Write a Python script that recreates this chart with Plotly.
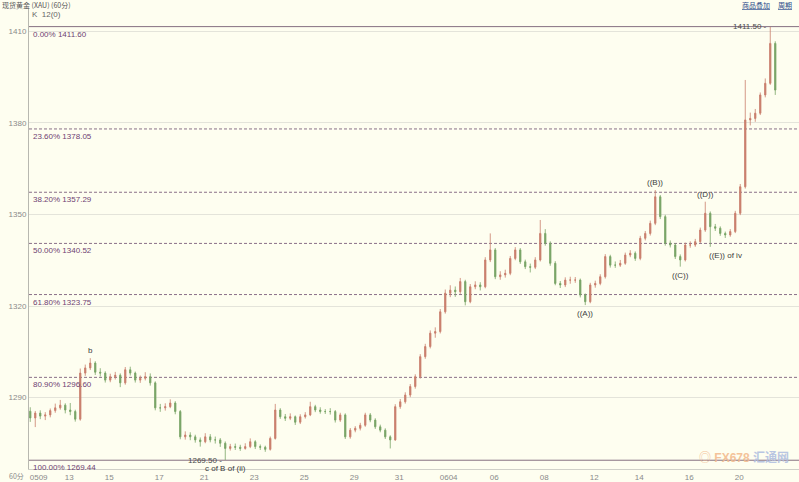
import plotly.graph_objects as go

# ---------------- data ----------------
OPEN = [1285.5, 1283.3, 1284.9, 1283.9, 1284.3, 1285.7, 1286.6, 1287.5, 1285.9, 1285.4,
        1282.9, 1298.0, 1299.7, 1301.3, 1298.3, 1298.0, 1295.7, 1296.8, 1297.3, 1294.8,
        1299.1, 1298.0, 1295.7, 1296.3, 1296.8, 1294.8, 1286.6, 1286.6, 1287.0, 1288.2,
        1285.4, 1277.1, 1277.7, 1277.1, 1276.1, 1275.5, 1277.1, 1276.1, 1276.1, 1275.0,
        1273.3, 1273.9, 1273.7, 1273.3, 1273.9, 1275.5, 1273.9, 1273.7, 1273.0, 1276.6,
        1285.9, 1283.7, 1283.2, 1283.7, 1281.9, 1283.7, 1284.3, 1287.0, 1285.9, 1285.4,
        1285.4, 1285.4, 1282.6, 1284.3, 1277.1, 1279.3, 1279.9, 1280.9, 1284.3, 1282.6,
        1280.4, 1279.3, 1277.1, 1276.1, 1287.0, 1288.6, 1290.8, 1293.6, 1296.8, 1303.4,
        1306.7, 1311.1, 1311.6, 1318.1, 1324.2, 1325.2, 1324.7, 1328.0, 1321.4, 1326.3,
        1326.9, 1326.3, 1335.1, 1338.4, 1329.6, 1330.2, 1330.7, 1335.6, 1338.4, 1334.5,
        1332.9, 1332.7, 1335.1, 1343.8, 1340.6, 1334.0, 1327.4, 1326.9, 1328.5, 1328.5,
        1328.5, 1323.6, 1321.4, 1326.9, 1327.4, 1329.6, 1336.2, 1333.4, 1333.4, 1334.0,
        1336.7, 1337.3, 1335.6, 1342.2, 1343.8, 1347.1, 1355.8, 1349.3, 1340.6, 1340.0,
        1336.2, 1335.1, 1340.0, 1340.0, 1341.1, 1344.9, 1350.4, 1346.0, 1345.5, 1343.8,
        1343.3, 1344.4, 1350.4, 1359.1, 1381.0, 1381.5, 1383.2, 1389.2, 1393.0, 1406.1]
HIGH = [1286.8, 1285.6, 1285.8, 1285.2, 1286.4, 1288.0, 1289.2, 1288.1, 1288.2, 1286.0,
        1299.5, 1300.8, 1302.9, 1301.9, 1299.6, 1298.6, 1297.8, 1298.4, 1297.9, 1300.0,
        1300.1, 1298.5, 1297.2, 1298.3, 1297.9, 1295.3, 1287.9, 1288.1, 1289.4, 1288.8,
        1285.9, 1278.9, 1278.6, 1277.8, 1276.9, 1278.3, 1278.0, 1277.2, 1276.7, 1275.6,
        1274.8, 1274.9, 1274.5, 1275.0, 1276.6, 1276.0, 1274.6, 1274.2, 1277.2, 1287.9,
        1286.5, 1284.6, 1284.8, 1284.1, 1284.5, 1285.2, 1288.6, 1287.6, 1286.8, 1286.2,
        1286.5, 1285.9, 1285.0, 1284.8, 1280.0, 1280.6, 1281.7, 1285.0, 1284.9, 1283.2,
        1281.1, 1279.9, 1277.6, 1287.8, 1289.5, 1291.7, 1294.4, 1297.6, 1304.2, 1307.6,
        1312.0, 1313.0, 1319.0, 1325.4, 1326.8, 1326.4, 1329.2, 1328.6, 1327.2, 1328.1,
        1327.8, 1336.0, 1343.8, 1339.0, 1331.4, 1331.9, 1336.4, 1339.3, 1339.0, 1335.2,
        1333.9, 1336.0, 1348.2, 1345.2, 1341.2, 1334.7, 1328.2, 1329.4, 1329.6, 1329.5,
        1329.0, 1324.1, 1327.6, 1328.3, 1330.4, 1337.0, 1336.8, 1334.6, 1335.1, 1337.5,
        1338.3, 1337.9, 1343.0, 1344.6, 1348.0, 1358.0, 1356.4, 1349.9, 1341.5, 1340.6,
        1336.9, 1340.8, 1341.2, 1342.0, 1345.7, 1354.2, 1351.0, 1346.9, 1346.1, 1344.4,
        1345.2, 1351.2, 1360.0, 1394.1, 1383.4, 1384.6, 1390.0, 1394.6, 1411.5, 1406.8]
LOW = [1282.0, 1280.3, 1282.9, 1282.6, 1283.5, 1285.0, 1286.0, 1284.8, 1284.2, 1282.1,
       1282.4, 1297.1, 1299.0, 1297.4, 1296.9, 1294.9, 1295.0, 1295.9, 1293.4, 1294.2,
       1297.2, 1294.9, 1294.8, 1295.6, 1293.9, 1285.8, 1285.3, 1285.7, 1286.5, 1284.5,
       1276.3, 1276.2, 1276.0, 1275.2, 1273.9, 1275.0, 1275.3, 1274.9, 1273.8, 1269.5,
       1272.6, 1272.8, 1272.5, 1272.9, 1273.4, 1273.1, 1272.8, 1272.2, 1272.6, 1276.2,
       1283.0, 1282.3, 1282.6, 1281.0, 1281.3, 1283.1, 1283.9, 1285.2, 1284.7, 1284.6,
       1284.4, 1281.8, 1282.0, 1276.4, 1276.5, 1278.6, 1279.2, 1280.4, 1281.9, 1279.7,
       1278.6, 1276.4, 1273.3, 1275.8, 1286.3, 1288.0, 1290.1, 1292.9, 1296.2, 1302.7,
       1306.1, 1309.6, 1311.0, 1317.5, 1322.9, 1323.0, 1324.0, 1320.2, 1320.9, 1325.5,
       1325.1, 1325.8, 1334.4, 1328.8, 1328.6, 1329.3, 1330.1, 1335.0, 1333.8, 1332.1,
       1331.0, 1332.1, 1334.6, 1339.8, 1333.2, 1326.8, 1325.9, 1326.2, 1327.3, 1327.6,
       1322.8, 1320.3, 1320.9, 1326.0, 1326.8, 1329.0, 1332.6, 1332.5, 1332.8, 1333.5,
       1336.0, 1334.8, 1335.0, 1341.5, 1343.1, 1346.5, 1348.5, 1339.8, 1339.2, 1335.4,
       1332.9, 1334.6, 1339.1, 1339.4, 1340.6, 1344.3, 1339.4, 1344.6, 1343.0, 1342.3,
       1342.7, 1343.9, 1349.8, 1358.5, 1379.2, 1380.4, 1382.6, 1388.4, 1392.5, 1389.2]
CLOSE = [1283.3, 1284.9, 1283.9, 1284.3, 1285.7, 1286.6, 1287.5, 1285.9, 1285.4, 1282.9,
         1298.0, 1299.7, 1301.3, 1298.3, 1298.0, 1295.7, 1296.8, 1297.3, 1294.8, 1299.1,
         1298.0, 1295.7, 1296.3, 1296.8, 1294.8, 1286.6, 1286.6, 1287.0, 1288.2, 1285.4,
         1277.1, 1277.7, 1277.1, 1276.1, 1275.5, 1277.1, 1276.1, 1276.1, 1275.0, 1273.3,
         1273.9, 1273.7, 1273.3, 1273.9, 1275.5, 1273.9, 1273.7, 1273.0, 1276.6, 1285.9,
         1283.7, 1283.2, 1283.7, 1281.9, 1283.7, 1284.3, 1287.0, 1285.9, 1285.4, 1285.4,
         1285.4, 1282.6, 1284.3, 1277.1, 1279.3, 1279.9, 1280.9, 1284.3, 1282.6, 1280.4,
         1279.3, 1277.1, 1276.1, 1287.0, 1288.6, 1290.8, 1293.6, 1296.8, 1303.4, 1306.7,
         1311.1, 1311.6, 1318.1, 1324.2, 1325.2, 1324.7, 1328.0, 1321.4, 1326.3, 1326.9,
         1326.3, 1335.1, 1338.4, 1329.6, 1330.2, 1330.7, 1335.6, 1338.4, 1334.5, 1332.9,
         1332.7, 1335.1, 1343.8, 1340.6, 1334.0, 1327.4, 1326.9, 1328.5, 1328.5, 1328.5,
         1323.6, 1321.4, 1326.9, 1327.4, 1329.6, 1336.2, 1333.4, 1333.4, 1334.0, 1336.7,
         1337.3, 1335.6, 1342.2, 1343.8, 1347.1, 1355.8, 1349.3, 1340.6, 1340.0, 1336.2,
         1335.1, 1340.0, 1340.0, 1341.1, 1344.9, 1350.4, 1346.0, 1345.5, 1343.8, 1343.3,
         1344.4, 1350.4, 1359.1, 1381.0, 1381.5, 1383.2, 1389.2, 1393.0, 1406.1, 1390.8]
BARS = list(range(len(CLOSE)))

DAY_START = [0, 7, 15, 25, 34, 44, 54, 64, 73, 82, 92, 102, 112, 121, 131, 141]
DAY_LABEL = ["0509", "13", "15", "17", "21", "23", "25", "29", "31",
             "0604", "06", "08", "12", "14", "16", "20"]

Y_TICKS = [1290, 1320, 1350, 1380, 1410]

FIB_PCT = ["0.00%", "23.60%", "38.20%", "50.00%", "61.80%", "80.90%", "100.00%"]
FIB_VAL = [1411.60, 1378.05, 1357.29, 1340.52, 1323.75, 1296.60, 1269.44]

WAVE_TEXT = ["b", "c of B of (ii)", "((A))", "((B))", "((C))", "((D))", "((E)) of iv"]
WAVE_BAR = [12, 39, 111, 125, 130, 135, 136]
WAVE_SIDE = ["high", "low", "low", "high", "low", "high", "low"]

EXTREME_TEXT = ["1269.50", "1411.50"]
EXTREME_BAR = [39, 148]
EXTREME_SIDE = ["low", "high"]

# ---------------- styling ----------------
BG = "#fefef0"
UP = "#c97e6c"
DOWN = "#78a466"
FIB_COL = "#8a7088"
FIB_TXT = "#6e3f72"
AX_TXT = "#8a8a8a"
NARROW = "Liberation Sans Narrow, Arial Narrow, Liberation Sans, sans-serif"
CJK = "Noto Sans CJK SC, sans-serif"

fig = go.Figure()
fig.add_trace(go.Candlestick(
    x=BARS, open=OPEN, high=HIGH, low=LOW, close=CLOSE,
    increasing=dict(line=dict(color=UP, width=0.8), fillcolor=UP),
    decreasing=dict(line=dict(color=DOWN, width=0.8), fillcolor=DOWN),
    whiskerwidth=0, showlegend=False, hoverinfo="skip"))

shapes = []
annotations = []
for i, (p, v) in enumerate(zip(FIB_PCT, FIB_VAL)):
    solid = (i == 0 or i == len(FIB_VAL) - 1)
    shapes.append(dict(type="line", xref="paper", x0=0, x1=1, yref="y", y0=v, y1=v,
                       line=dict(color="#857080" if solid else FIB_COL, width=1,
                                 dash="solid" if solid else "3px,2px"),
                       layer="below"))
    annotations.append(dict(xref="paper", x=0, xanchor="left", xshift=2,
                            yref="y", y=v, yanchor="top", yshift=-1,
                            text=f"{p} {v:.2f}", showarrow=False,
                            font=dict(family=NARROW, size=8, color=FIB_TXT)))

for t, b, s in zip(WAVE_TEXT, WAVE_BAR, WAVE_SIDE):
    yv = HIGH[b] if s == "high" else LOW[b]
    annotations.append(dict(x=b, y=yv, xref="x", yref="y", text=t, showarrow=False,
                            xanchor="center" if t != "((E)) of iv" else "left",
                            xshift=(0 if t != "((E)) of iv" else -3),
                            yanchor="bottom" if s == "high" else "top",
                            yshift=1 if s == "high" else -2,
                            font=dict(family=NARROW, size=8, color="#3c3c3c")))

for t, b, s in zip(EXTREME_TEXT, EXTREME_BAR, EXTREME_SIDE):
    yv = HIGH[b] if s == "high" else LOW[b]
    annotations.append(dict(x=b, y=yv, xref="x", yref="y", text=t + " -", showarrow=False,
                            xanchor="right", xshift=-1, yanchor="middle",
                            font=dict(family=NARROW, size=8, color="#4a4a4a")))

# header texts
annotations += [
    dict(xref="paper", yref="paper", x=0, y=1, xanchor="left", yanchor="bottom",
         xshift=-29, yshift=-4, text="现货黄金 (XAU) (60分)", showarrow=False,
         font=dict(family=CJK, size=7, color="#555555")),
    dict(xref="paper", yref="paper", x=0, y=1, xanchor="left", yanchor="top",
         xshift=1, yshift=0, text="K  12(0)", showarrow=False,
         font=dict(family=NARROW, size=8, color="#666666")),
    dict(xref="paper", yref="paper", x=1, y=1, xanchor="right", yanchor="bottom",
         xshift=-27, yshift=-4, text="<u>商品叠加</u>", showarrow=False,
         font=dict(family=CJK, size=7, color="#2a4a8a")),
    dict(xref="paper", yref="paper", x=1, y=1, xanchor="right", yanchor="bottom",
         xshift=-5, yshift=-4, text="<u>周期</u>", showarrow=False,
         font=dict(family=CJK, size=7, color="#2a4a8a")),
    dict(xref="paper", yref="paper", x=0, y=0, xanchor="right", yanchor="top",
         xshift=-3, yshift=0, text="60分", showarrow=False,
         font=dict(family=CJK, size=7, color=AX_TXT)),
    dict(xref="paper", yref="paper", x=1, y=0, xanchor="right", yanchor="bottom",
         xshift=-8, yshift=2,
         text="<span style='color:#f3b98c'>◎ <b>FX678</b></span> <span style='color:#aebde0'><b>汇通网</b></span>",
         showarrow=False, opacity=0.85,
         font=dict(family="Liberation Sans, Noto Sans CJK SC, sans-serif", size=12)),
]

fig.update_layout(
    width=799, height=482,
    margin=dict(l=29, r=0, t=8, b=13, autoexpand=False),
    paper_bgcolor=BG, plot_bgcolor=BG,
    shapes=shapes, annotations=annotations,
    showlegend=False, boxgap=0.6,
    xaxis=dict(range=[-0.25, 153.75], rangeslider=dict(visible=False),
               tickvals=[d - 0.2 for d in DAY_START], ticktext=DAY_LABEL,
               ticklabelposition="outside right", ticks="", showgrid=False,
               zeroline=False, showline=True, linecolor="#d0d0c8", linewidth=1,
               tickfont=dict(family=NARROW, size=8, color=AX_TXT)),
    yaxis=dict(range=[1266.56, 1417.70], tickvals=Y_TICKS,
               ticktext=[str(v) for v in Y_TICKS], ticks="",
               showgrid=True, gridcolor="#e4e4da", gridwidth=1, zeroline=False,
               showline=True, linecolor="#b8b8b0", linewidth=1,
               tickfont=dict(family=NARROW, size=8, color=AX_TXT)),
)

fig.write_html("out.html",
               config={"displayModeBar": False, "staticPlot": True},
               post_script="document.body.style.margin='0px';"
                           "document.body.style.overflow='hidden';"
                           f"document.body.style.background='{BG}';")
